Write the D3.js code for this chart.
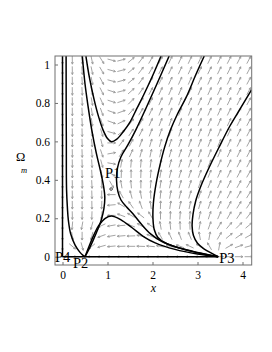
<!DOCTYPE html>
<html><head><meta charset="utf-8">
<script src="https://cdn.jsdelivr.net/npm/d3@7"></script>
<style>body{margin:0;background:#fff} svg{display:block}</style>
</head><body>
<svg id="c" width="272" height="352"></svg>
<script>
// ---- data ----
const xTicks = [0, 1, 2, 3, 4];
const yTicks = [0, 0.2, 0.4, 0.6, 0.8, 1];
const yTickLabels = ["0", "0.2", "0.4", "0.6", "0.8", "1"];

// direction-field grid (x columns, y rows top->bottom) and arrow angles (deg, screen, 90 = up)
const arrowX = [0,0.218,0.436,0.653,0.871,1.089,1.307,1.524,1.742,1.96,2.178,2.396,2.613,2.831,3.049,3.267,3.484,3.702,3.92,4.138];
const arrowY = [1.023,0.969,0.915,0.861,0.808,0.754,0.7,0.646,0.592,0.538,0.485,0.431,0.377,0.323,0.269,0.215,0.162,0.108,0.054,0];
const arrowAngles = [
 [-90,-89,-86,-78,-58,-15,15,40,53,60,63,64,65,65,65,64,64,63,63,62],
 [-90,-89,-86,-78,-60,-15,15,40,53,60,63,64,65,65,65,64,64,63,63,62],
 [-90,-89,-86,-79,-62,-15,15,40,54,61,64,65,66,66,65,65,64,63,63,62],
 [-90,-89,-87,-80,-64,-18,15,42,55,62,65,66,67,66,66,65,64,64,63,62],
 [-90,-89,-87,-80,-66,-18,18,45,57,63,66,67,68,67,66,65,65,64,63,62],
 [-90,-89,-87,-81,-70,-20,20,48,59,65,67,68,69,68,67,66,65,64,63,62],
 [-90,-89,-87,-82,-72,-20,25,52,61,66,69,70,70,69,68,67,66,65,63,62],
 [-90,-89,-88,-82,-74,-15,35,56,64,69,71,72,71,70,69,68,66,65,64,62],
 [-90,-89,-88,-84,-76,0,52,62,70,74,74,72,71,70,69,68,67,65,64,62],
 [-90,-89,-88,-85,-72,10,58,66,75,78,77,74,72,71,70,68,67,65,64,62],
 [-90,-89,-88,-86,-75,-10,80,85,85,82,78,75,73,72,70,66,65,64,63,62],
 [-90,-89,-88,-87,-80,-30,88,90,88,85,80,76,74,72,70,68,66,64,62,60],
 [-90,-89,-88,-87,-88,-60,100,95,90,85,82,78,75,73,69,67,65,63,61,59],
 [-90,-89,-89,-88,-90,180,120,105,100,92,85,80,76,73,72,68,65,62,60,58],
 [-90,-89,-89,-89,-92,185,150,125,110,98,88,82,78,78,74,70,66,62,58,56],
 [-90,-89,-90,-92,-95,180,160,150,142,120,90,88,86,85,78,72,66,60,56,52],
 [-90,-95,-100,-105,-155,190,185,160,150,145,100,95,92,92,80,70,60,50,45,40],
 [-90,-80,-90,-105,-160,190,185,182,170,158,120,115,110,112,100,80,60,40,35,30],
 [-90,-40,-75,-140,-165,185,182,180,178,175,170,165,160,155,145,120,80,30,20,15],
 [0,0,0,180,180,180,180,180,180,180,180,180,180,180,180,180,0,0,0,0]
];

// trajectories [x, Omega_m]
const trajAxisV = [[0,0],[0,1.044]];
const trajAxisH = [[0,0],[3.46,0]];
const trajUL = [[0.08,1.044],[0.082,0.8],[0.085,0.6],[0.09,0.35],[0.11,0.25],[0.13,0.19],[0.18,0.12],[0.28,0.06],[0.38,0.025],[0.45,0.008],[0.5,0]];
const trajLH = [[0.44,1.044],[0.5,0.9],[0.57,0.78],[0.65,0.66],[0.75,0.54],[0.84,0.45],[0.91,0.37],[0.94,0.31],[0.92,0.25],[0.86,0.19],[0.78,0.14],[0.68,0.085],[0.58,0.035],[0.5,0]];
const trajParabola = [[0.52,1.044],[0.6,0.93],[0.7,0.82],[0.8,0.73],[0.9,0.66],[1.0,0.615],[1.09,0.598],[1.2,0.61],[1.35,0.65],[1.5,0.7],[1.65,0.77],[1.8,0.84],[2.0,0.94],[2.19,1.044]];
const trajRH = [[2.37,1.044],[2.1,0.9],[1.85,0.77],[1.63,0.66],[1.45,0.58],[1.3,0.52],[1.22,0.46],[1.2,0.4],[1.23,0.34],[1.3,0.295],[1.42,0.26],[1.56,0.225],[1.75,0.17],[1.95,0.12],[2.2,0.08],[2.6,0.045],[3.0,0.02],[3.46,0]];
const trajHump = [[0.5,0],[0.6,0.06],[0.7,0.115],[0.8,0.16],[0.95,0.2],[1.09,0.212],[1.3,0.192],[1.54,0.152],[1.8,0.105],[2.06,0.072],[2.5,0.038],[3.0,0.014],[3.46,0]];
const trajA = [[3.15,1.044],[2.95,0.94],[2.75,0.83],[2.55,0.74],[2.4,0.66],[2.27,0.57],[2.17,0.48],[2.08,0.38],[2.02,0.28],[2.01,0.2],[2.04,0.14],[2.12,0.1],[2.3,0.07],[2.6,0.045],[3.0,0.022],[3.46,0]];
const trajB = [[4.2,0.868],[3.95,0.77],[3.72,0.68],[3.48,0.57],[3.25,0.46],[3.08,0.37],[2.96,0.29],[2.9,0.22],[2.88,0.16],[2.91,0.11],[3.0,0.07],[3.15,0.04],[3.34,0.015],[3.46,0]];

const pointNames = ["P1","P2","P3","P4"];
const pointX = [1.08, 0.5, 3.46, 0];
const pointY = [0.352, 0, 0, 0];

// ---- drawing ----
const svg = d3.select("#c");
const x = d3.scaleLinear().domain([0,4]).range([62.5,242.5]);
const y = d3.scaleLinear().domain([0,1]).range([256.7,64.5]);
const L = 55, R = 251.7, T = 56, B = 265;
const font = "'Liberation Serif','Times New Roman',serif";

svg.append("defs").append("clipPath").attr("id","clip")
  .append("rect").attr("x",L).attr("y",T).attr("width",R-L).attr("height",B-T);

// arrows
const ag = svg.append("g").attr("clip-path","url(#clip)")
  .attr("stroke","#9a9a9a").attr("stroke-width",0.9).attr("fill","none");
const half = 4.1, head = 2.3;
arrowY.forEach((yy,j)=>{
  arrowX.forEach((xx,i)=>{
    const a = arrowAngles[j][i]*Math.PI/180;
    const cx = x(xx), cy = y(yy);
    const dx = Math.cos(a)*half, dy = -Math.sin(a)*half;
    const tx = cx+dx, ty = cy+dy;
    const b1 = a+Math.PI-0.45, b2 = a+Math.PI+0.45;
    ag.append("path").attr("d",
      `M${cx-dx},${cy-dy}L${tx},${ty}M${tx+Math.cos(b1)*head},${ty-Math.sin(b1)*head}L${tx},${ty}L${tx+Math.cos(b2)*head},${ty-Math.sin(b2)*head}`);
  });
});

// trajectories
const line = d3.line().x(d=>x(d[0])).y(d=>y(d[1])).curve(d3.curveCatmullRom.alpha(0.5));
const tg = svg.append("g").attr("clip-path","url(#clip)")
  .attr("stroke","#000").attr("stroke-width",1.5).attr("fill","none");
[trajAxisV,trajAxisH,trajUL,trajLH,trajParabola,trajRH,trajHump,trajA,trajB].forEach(t=>{
  tg.append("path").attr("d",line(t));
});

// frame
svg.append("rect").attr("x",L).attr("y",T).attr("width",R-L).attr("height",B-T)
  .attr("fill","none").attr("stroke","#707070").attr("stroke-width",1);

// axes
const xa = svg.append("g").attr("transform",`translate(0,${B})`)
  .call(d3.axisBottom(x).tickValues(xTicks).tickSize(-3).tickPadding(6).tickFormat(d3.format("d")));
const ya = svg.append("g").attr("transform",`translate(${L},0)`)
  .call(d3.axisLeft(y).tickValues(yTicks).tickSize(-3).tickPadding(5).tickFormat((d,i)=>yTickLabels[i]));
[xa,ya].forEach(g=>{
  g.select(".domain").remove();
  g.selectAll("line").attr("stroke","#707070");
  g.selectAll("text").attr("font-family",font).attr("font-size",11.5).attr("fill","#000");
});

// axis titles
svg.append("text").attr("x",(L+R)/2).attr("y",292).attr("text-anchor","middle")
  .attr("font-family",font).attr("font-style","italic").attr("font-size",12).text("x");
svg.append("text").attr("x",16).attr("y",161).attr("font-family",font).attr("font-size",12.5).text("Ω");
svg.append("text").attr("x",21).attr("y",173).attr("font-family",font).attr("font-style","italic").attr("font-size",8.5).text("m");

// critical points
svg.append("circle").attr("cx",x(pointX[0])).attr("cy",y(pointY[0])).attr("r",1.3)
  .attr("fill","none").attr("stroke","#000").attr("stroke-width",0.7);
const labelDX = [-6, -12, 1, -7.5];
const labelDY = [-11, 11.5, 6, 5.5];
pointNames.forEach((n,i)=>{
  svg.append("text").attr("x",x(pointX[i])+labelDX[i]).attr("y",y(pointY[i])+labelDY[i])
    .attr("font-family",font).attr("font-size",14.5).attr("fill","#000").text(n);
});
</script>
</body></html>
